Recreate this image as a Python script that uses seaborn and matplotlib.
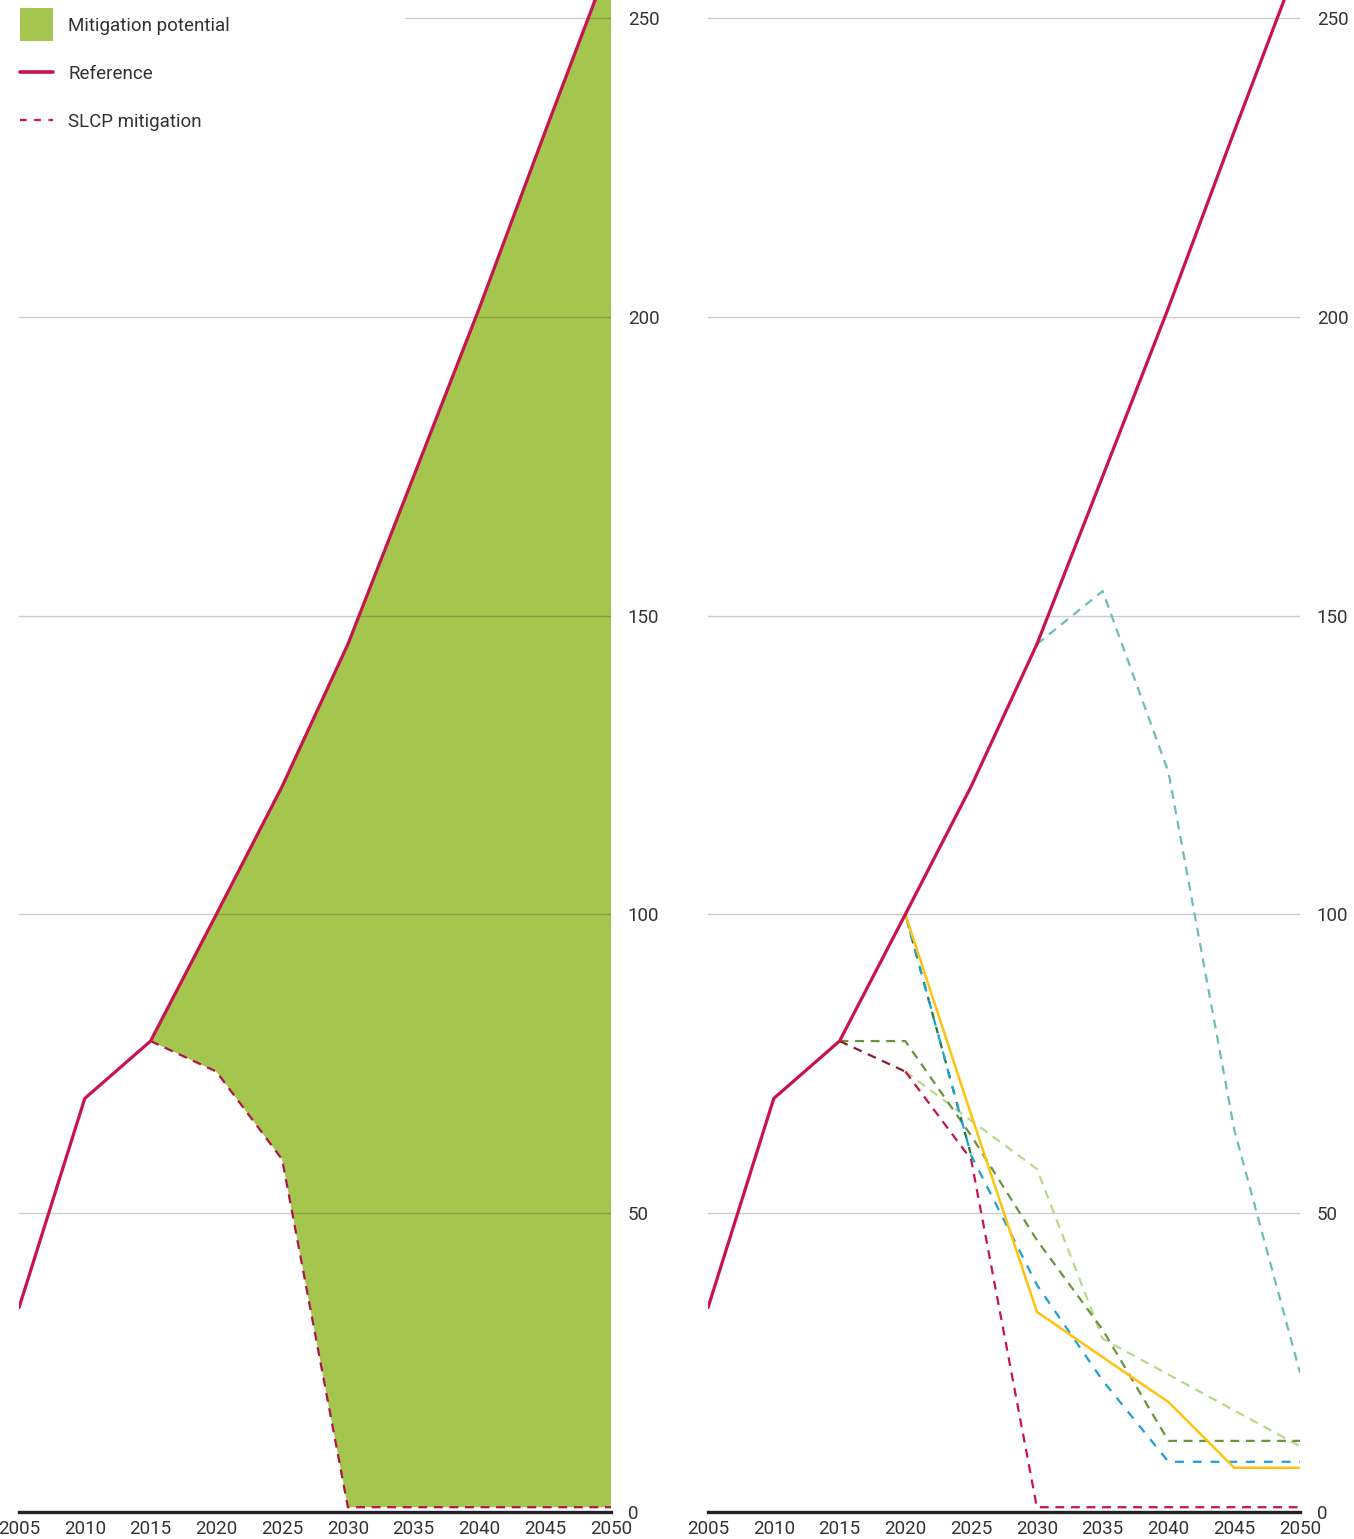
import numpy as np
import pandas as pd
import matplotlib
matplotlib.use("Agg")
import matplotlib.pyplot as plt
import seaborn as sns
from matplotlib.patches import Rectangle
from matplotlib.lines import Line2D

# ---------------- data ----------------
years = [2005, 2010, 2015, 2020, 2025, 2030, 2035, 2040, 2045, 2050]
reference = [34.2, 69.2, 78.8, 100.0, 121.4, 145.2, 173.3, 201.5, 231.0, 260.0]

slcp_years = [2015, 2020, 2025, 2030, 2035, 2040, 2045, 2050]
slcp = [78.8, 73.7, 59.0, 0.8, 0.8, 0.8, 0.8, 0.8]

# right panel scenario lines
maroon_years = [2015, 2020]
maroon = [78.8, 73.7]

crimson_years = [2020, 2025, 2030, 2035, 2040, 2045, 2050]
crimson = [73.7, 59.0, 0.8, 0.8, 0.8, 0.8, 0.8]

olive_years = [2015, 2020, 2025, 2030, 2035, 2040, 2045, 2050]
olive = [78.8, 78.8, 63.0, 45.5, 30.5, 11.9, 11.9, 11.9]

lightgreen_years = [2020, 2025, 2030, 2035, 2040, 2045, 2050]
lightgreen = [73.7, 65.5, 57.4, 29.0, 23.0, 17.0, 11.0]

darkgreen_years = [2020, 2025]
darkgreen = [100.0, 59.7]

blue_years = [2020, 2025, 2030, 2035, 2040, 2045, 2050]
blue = [100.0, 59.7, 38.0, 22.0, 8.4, 8.4, 8.4]

yellow_years = [2020, 2025, 2030, 2035, 2040, 2045, 2050]
yellow = [100.0, 66.5, 33.5, 25.9, 18.4, 7.4, 7.4]

teal_years = [2030, 2035, 2040, 2045, 2050]
teal = [145.2, 154.1, 123.8, 64.0, 23.3]

yticks = [0, 50, 100, 150, 200, 250]
xticks = [2005, 2010, 2015, 2020, 2025, 2030, 2035, 2040, 2045, 2050]

legend_labels = ["Mitigation potential", "Reference", "SLCP mitigation"]

# ---------------- style ----------------
sns.set_theme(style="white")
plt.rcParams["font.family"] = ["Roboto", "DejaVu Sans"]
FS = 13.5
TXT = "#333333"

C_REF = "#C8134E"
C_SLCP = "#B0154A"
C_FILL = "#A4C64F"
C_MAROON = "#8C1C2C"
C_OLIVE = "#6B9440"
C_LIGHT = "#B8D98A"
C_DKGREEN = "#1E7B3A"
C_BLUE = "#1BA1D4"
C_YELLOW = "#FFC20E"
C_TEAL = "#6CBDBA"

W, H = 1354, 1539
fig = plt.figure(figsize=(W / 100, H / 100), dpi=100)

ax_w = 592 / W
ax_b = (H - 1512) / H
ax_h = 1512 / H
axL = fig.add_axes([19 / W, ax_b, ax_w, ax_h])
axR = fig.add_axes([708 / W, ax_b, ax_w, ax_h])

DASH = (0, (4, 3))


def style_axis(ax, grid_start_250=0.0):
    ax.set_xlim(2005, 2050)
    ax.set_ylim(0, 253)
    ax.set_xticks(xticks)
    ax.set_xticklabels([str(x) for x in xticks])
    ax.set_yticks(yticks)
    ax.set_yticklabels([str(y) for y in yticks])
    ax.yaxis.tick_right()
    ax.tick_params(axis="y", length=0, pad=12, labelsize=FS, colors=TXT)
    ax.tick_params(axis="x", length=0, pad=6, labelsize=FS, colors=TXT)
    for s in ["top", "left", "right"]:
        ax.spines[s].set_visible(False)
    ax.spines["bottom"].set_color("#222222")
    ax.spines["bottom"].set_linewidth(2.4)
    ax.spines["bottom"].set_zorder(10)
    for t in yticks[1:]:
        xmin = grid_start_250 if t == 250 else 0.0
        ax.axhline(t, xmin=xmin, xmax=1.0, color="black", alpha=0.2, lw=1.0, zorder=3)
    ax.set_xlabel("")
    ax.set_ylabel("")
    ax.patch.set_alpha(0)


def line(ax, xs, ys, color, ls="-", lw=1.5, z=4):
    df = pd.DataFrame({"year": xs, "value": ys})
    sns.lineplot(data=df, x="year", y="value", ax=ax, color=color,
                 linestyle=ls, linewidth=lw, zorder=z, legend=False,
                 estimator=None, sort=False)


# ---------------- left panel ----------------
ref_on_slcp = [reference[years.index(y)] for y in slcp_years]
axL.fill_between(slcp_years, slcp, ref_on_slcp, color=C_FILL, lw=0, zorder=2)
line(axL, slcp_years, slcp, C_SLCP, ls=DASH, lw=1.6, z=5)
line(axL, years, reference, C_REF, lw=2.3, z=6)
style_axis(axL, grid_start_250=(405 - 19) / 592)

# ---------------- right panel ----------------
line(axR, teal_years, teal, C_TEAL, ls=DASH, lw=1.6, z=4)
line(axR, lightgreen_years, lightgreen, C_LIGHT, ls=DASH, lw=1.6, z=4)
line(axR, olive_years, olive, C_OLIVE, ls=DASH, lw=1.6, z=4)
line(axR, crimson_years, crimson, C_REF, ls=DASH, lw=1.6, z=4)
line(axR, maroon_years, maroon, C_MAROON, ls=DASH, lw=1.6, z=4)
line(axR, darkgreen_years, darkgreen, C_DKGREEN, ls=(3.5, (3, 4)), lw=1.6, z=4)
line(axR, blue_years, blue, C_BLUE, ls=(0, (4, 4)), lw=1.6, z=4)
line(axR, yellow_years, yellow, C_YELLOW, lw=1.8, z=5)
line(axR, years, reference, C_REF, lw=2.3, z=6)
style_axis(axR)

# ---------------- legend (drawn in figure pixel coordinates) ----------------
def fy(y):
    return 1 - y / H


def fx(x):
    return x / W


fig.patches.append(Rectangle((fx(20), fy(41)), fx(33), 33 / H,
                             transform=fig.transFigure, facecolor=C_FILL,
                             edgecolor="none"))
fig.lines.append(Line2D([fx(20), fx(53)], [fy(72), fy(72)],
                        transform=fig.transFigure, color=C_REF, lw=2.6))
fig.lines.append(Line2D([fx(20), fx(53)], [fy(120), fy(120)],
                        transform=fig.transFigure, color=C_REF, lw=1.6,
                        linestyle=(0, (3, 3.4))))
for lab, yc in zip(legend_labels, [24, 72, 120]):
    fig.text(fx(68), fy(yc), lab, fontsize=FS, color=TXT, ha="left",
             va="center_baseline")

fig.savefig("out.png", dpi=100)
